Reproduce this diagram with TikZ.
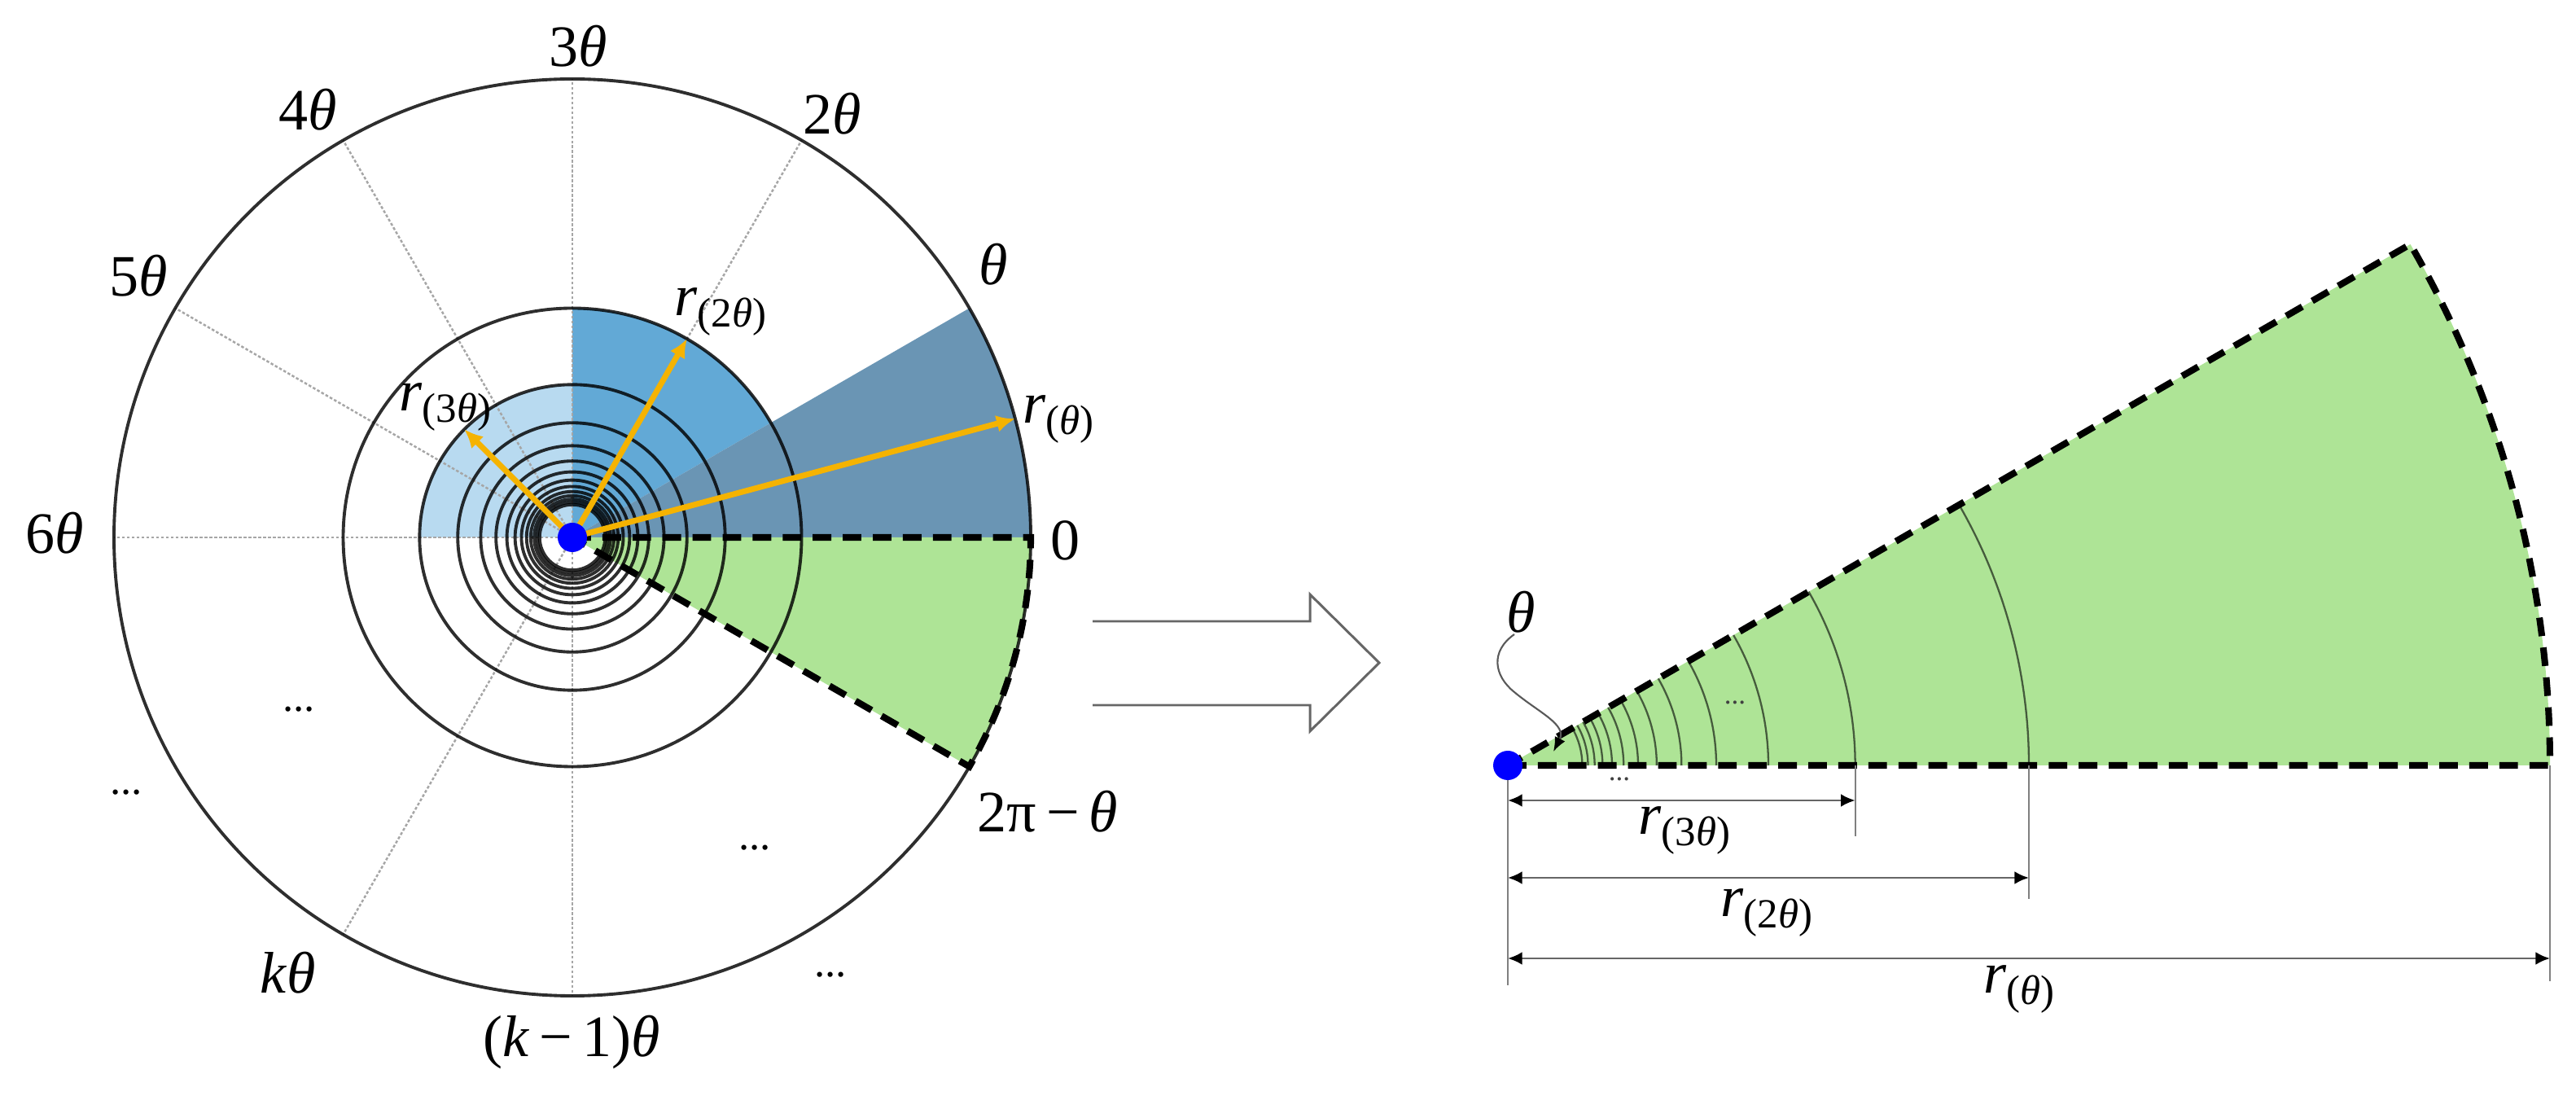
\documentclass[tikz,border=0pt]{standalone}
\usepackage{fontspec}
\setmainfont{Liberation Serif}
\usetikzlibrary{arrows.meta}
\definecolor{lblue}{HTML}{B8DAF0}
\definecolor{mblue}{HTML}{62A9D6}
\definecolor{dblue}{HTML}{6A95B4}
\definecolor{grn}{HTML}{AEE496}
\definecolor{gold}{HTML}{F5B301}
\newcommand\myr[1]{\textit{r}\raisebox{-0.45ex}{\fontsize{14.5}{15}\selectfont(#1)}}
\newcommand\thet{\textit{θ}}
\begin{document}
\begin{tikzpicture}[
  lab/.style={font=\fontsize{20.5}{24}\selectfont, inner sep=0pt},
  dots/.style={font=\fontsize{15}{16}\selectfont, inner sep=0pt},
  smalldots/.style={font=\fontsize{10}{10}\selectfont, inner sep=0pt, text=black!75},
  radial/.style={draw=black!35, line width=0.7pt, dash pattern=on 1pt off 0.7pt},
  ring/.style={draw=black, draw opacity=0.82, line width=1.1pt},
  thinarc/.style={draw=black, draw opacity=0.6, line width=0.65pt},
  dashline/.style={draw=black, line width=2.3pt, dash pattern=on 6.5pt off 4pt},
  oarrow/.style={draw=gold, line width=2pt, -{Latex[length=6.5pt,width=6pt]}},
  dimarrow/.style={draw=black!60, line width=0.8pt, {Latex[length=5pt,width=4.5pt,color=black]}-{Latex[length=5pt,width=4.5pt,color=black]}},
  ext/.style={draw=black!50, line width=0.6pt},
  blockarrow/.style={draw=black!60, line width=0.85pt, line join=miter},
  pointer/.style={draw=black!65, line width=0.6pt, -{Latex[length=5pt,width=4pt,color=black]}}
]
\useasboundingbox (0,0) rectangle (31.64,13.45);
% ---------------- left figure ----------------
\def\R{5.63}
\coordinate (C) at (7.03,6.85);
\fill[lblue] (C) -- ++(90:{\R/3}) arc[start angle=90,end angle=180,radius=\R/3] -- cycle;
\fill[mblue] (C) -- ++(30:{\R/2}) arc[start angle=30,end angle=90,radius=\R/2] -- cycle;
\fill[dblue] (C) -- ++(0:\R) arc[start angle=0,end angle=30,radius=\R] -- cycle;
\fill[grn] (C) -- ++(-30:\R) arc[start angle=-30,end angle=0,radius=\R] -- cycle;
\foreach \a in {60,90,120,150,180,240,270} \draw[radial] (C) -- ++(\a:\R);
\foreach \k in {2,...,14} \draw[ring] (C) circle[radius=\R/\k];
\draw[ring] (C) circle[radius=\R];
\draw[dashline] (C) -- ++(0:\R) arc[start angle=0,end angle=-30,radius=\R] -- cycle;
\path (C) ++(15:\R) coordinate (t1);
\path (C) ++(60:{\R/2}) coordinate (t2);
\path (C) ++(135:{\R/3}) coordinate (t3);
\draw[oarrow] (C) -- (t1);
\draw[oarrow] (C) -- (t2);
\draw[oarrow] (C) -- (t3);
\fill[blue] (C) circle[radius=0.18];
% labels
\node[lab] (l3) at (7.10,12.88) {3\thet};
\node[lab] (l2) at (10.22,12.05) {2\thet};
\node[lab] (l4) at (3.78,12.10) {4\thet};
\node[lab] (l5) at (1.70,10.06) {5\thet};
\node[lab] (l6) at (0.67,6.90) {6\thet};
\node[lab] (lk) at (3.54,1.50) {\textit{k}\thet};
\node[lab] (lk1) at (7.02,0.65) {(\textit{k}\,−\,1)\thet};
\node[lab] (l2pi) at (12.87,3.48) {2π\,−\,\thet};
\node[lab] (l0) at (13.08,6.81) {0};
\node[lab] (l1) at (12.20,10.20) {\thet};
\node[lab, anchor=west] (rt1) at (12.56,8.30) {\myr{\thet}};
\node[lab, anchor=west] (rt2) at (8.28,9.62) {\myr{2\thet}};
\node[lab, anchor=west] (rt3) at (4.90,8.45) {\myr{3\thet}};
\node[dots] (d1) at (3.67,4.74) {...};
\node[dots] (d2) at (1.55,3.72) {...};
\node[dots] (d3) at (9.27,3.04) {...};
\node[dots] (d4) at (10.20,1.48) {...};
% ---------------- block arrow ----------------
\coordinate (ba1) at (13.42,5.82);
\coordinate (ba2) at (16.09,5.82);
\coordinate (ba3) at (16.09,6.15);
\coordinate (ba4) at (16.94,5.31);
\coordinate (ba5) at (16.09,4.47);
\coordinate (ba6) at (16.09,4.79);
\coordinate (ba7) at (13.42,4.79);
\draw[blockarrow] (ba1) -- (ba2) -- (ba3) -- (ba4) -- (ba5) -- (ba6) -- (ba7);
% ---------------- right figure ----------------
\def\Rb{12.80}
\coordinate (A) at (18.52,4.05);
\fill[grn] (A) -- ++(0:\Rb) arc[start angle=0,end angle=30,radius=\Rb] -- cycle;
\foreach \k in {2,...,14} \draw[thinarc] (A) ++(0:{\Rb/\k}) arc[start angle=0,end angle=30,radius=\Rb/\k];
\draw[dashline] (A) -- ++(0:\Rb) arc[start angle=0,end angle=30,radius=\Rb] -- cycle;
\path (A) ++(0:\Rb) coordinate (b1);
\path (A) ++(0:{\Rb/2}) coordinate (b2);
\path (A) ++(0:{\Rb/3}) coordinate (b3);
\path (A) ++(0,-2.70) coordinate (ea);
\path (b1) ++(0,-2.65) coordinate (e1);
\path (b2) ++(0,-1.64) coordinate (e2);
\path (b3) ++(0,-0.87) coordinate (e3);
\draw[ext] (A) -- (ea);
\draw[ext] (b1) -- (e1);
\draw[ext] (b2) -- (e2);
\draw[ext] (b3) -- (e3);
\path (A) ++(0,-0.43) coordinate (d3a);
\path (b3) ++(0,-0.43) coordinate (d3b);
\path (A) ++(0,-1.38) coordinate (d2a);
\path (b2) ++(0,-1.38) coordinate (d2b);
\path (A) ++(0,-2.37) coordinate (d1a);
\path (b1) ++(0,-2.37) coordinate (d1b);
\draw[dimarrow] (d3a) -- (d3b);
\draw[dimarrow] (d2a) -- (d2b);
\draw[dimarrow] (d1a) -- (d1b);
\fill[blue] (A) circle[radius=0.18];
\node[lab] (R3) at (20.69,3.25) {\myr{3\thet}};
\node[lab] (R2) at (21.70,2.24) {\myr{2\thet}};
\node[lab] (R1) at (24.80,1.30) {\myr{\thet}};
\node[smalldots] (s1) at (21.31,4.82) {...};
\node[smalldots] (s2) at (19.89,3.88) {...};
\node[lab] (th) at (18.68,5.93) {\thet};
\coordinate (p0) at (18.60,5.66);
\coordinate (p1) at (18.60,4.95);
\coordinate (p2) at (19.08,4.22);
\draw[pointer] (p0) .. controls (18.30,5.45) and (18.35,5.15) .. (p1) .. controls (18.90,4.70) and (19.25,4.55) .. (p2);
\end{tikzpicture}
\end{document}
